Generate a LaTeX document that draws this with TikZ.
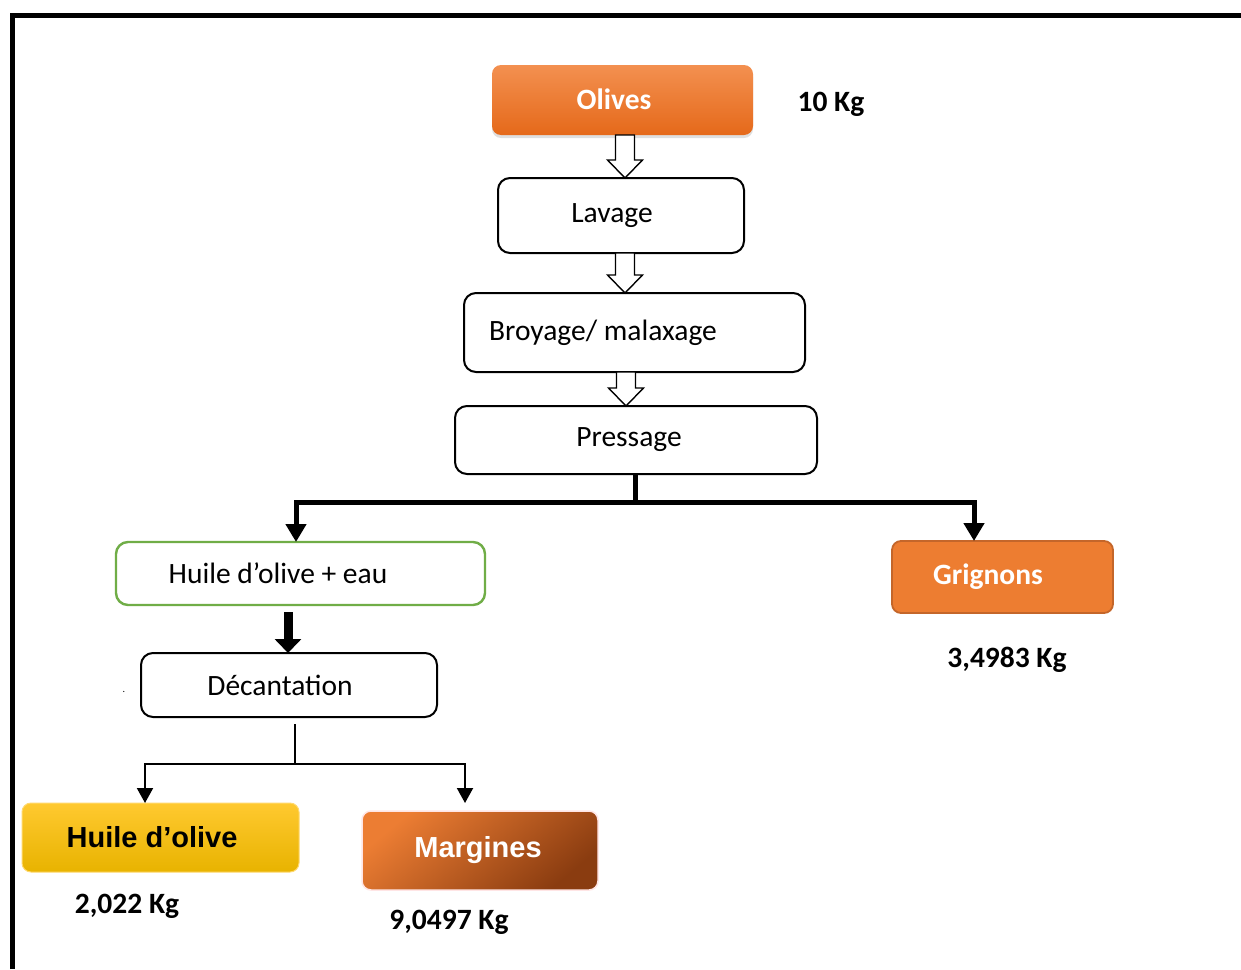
\documentclass[tikz,border=0pt]{standalone}
\usepackage{fontspec}
\setmainfont{Carlito}
\newfontfamily\arialf{Liberation Sans}
\usetikzlibrary{arrows.meta,calc,shadows}
\definecolor{olivetop}{HTML}{F39050}
\definecolor{olivebot}{HTML}{E5691A}
\definecolor{grigfill}{HTML}{ED7D31}
\definecolor{grigdraw}{HTML}{C4662A}
\definecolor{greenb}{HTML}{70AD47}
\definecolor{goldtop}{HTML}{FFC930}
\definecolor{goldbot}{HTML}{E8B300}
\definecolor{margtop}{HTML}{EC7D33}
\definecolor{margmid}{HTML}{CC6628}
\definecolor{margbot}{HTML}{8A3C10}
\newcommand\lsh[2]{#2\hspace*{#1}}
\newcommand\hollowarrow[3]{%
  \draw[fill=white, line width=1.4pt, line join=miter]
    let \p1=(#1.south), \p2=(#2.north), \p3=(#3,0) in
    (\x3-9.5pt,\y1) -- (\x3+9.5pt,\y1) -- (\x3+9.5pt,\y2+18pt) -- (\x3+17.5pt,\y2+18pt)
    -- (\x3,\y2) -- (\x3-17.5pt,\y2+18pt) -- (\x3-9.5pt,\y2+18pt) -- cycle;}
\begin{document}
\begin{tikzpicture}[x=1pt,y=-1pt,
  box/.style={draw=black, line width=2pt, rounded corners=12pt, fill=white, inner sep=0pt, outer sep=0pt,
    font=\fontsize{29.5}{33}\selectfont},
  colbox/.style={inner sep=0pt, outer sep=0pt, rounded corners=9pt},
  kg/.style={font=\fontsize{29.5}{33}\selectfont\bfseries},
  bigarrow/.style={line width=5pt, -{Triangle[width=20pt,length=18pt]}},
  thinarrow/.style={line width=2pt, -{Triangle[width=16pt,length=15pt]}}]
\useasboundingbox (0,0) rectangle (1241,969);
\fill[white] (0,0) rectangle (1241,969);
\draw[line width=5pt, line join=miter] (12.5,969) -- (12.5,15.5) -- (1241,15.5);

% nodes
\node[colbox, top color=olivetop, bottom color=olivebot, minimum width=261pt, minimum height=70pt,
  drop shadow={shadow xshift=0pt, shadow yshift=-3pt, opacity=0.25},
  text=white, font=\fontsize{29.5}{33}\selectfont\bfseries] (olives) at (622.5,100) {\lsh{17pt}{\raisebox{1.5pt}{Olives}}};
\node[kg] (k10) at (831,104) {10 Kg};
\node[box, minimum width=246pt, minimum height=75pt] (lavage) at (621,215.5) {\lsh{18pt}{Lavage}};
\node[box, minimum width=341pt, minimum height=79pt] (broyage) at (634.5,332.5) {\lsh{63pt}{\raisebox{3pt}{Broyage/ malaxage}}};
\node[box, minimum width=362pt, minimum height=68pt] (pressage) at (636,440) {\lsh{14pt}{Pressage}};
\node[box, draw=greenb, line width=2.4pt, minimum width=369pt, minimum height=63pt] (huileeau) at (300.5,573.5) {\lsh{45pt}{Huile d’olive + eau}};
\node[box, minimum width=296pt, minimum height=64pt] (decant) at (289,685) {\lsh{18pt}{Décantation}};
\node[colbox, fill=grigfill, draw=grigdraw, line width=1.8pt, minimum width=221pt, minimum height=72pt,
  text=white, font=\fontsize{29.5}{33}\selectfont\bfseries] (grignons) at (1002.5,577) {\lsh{29pt}{Grignons}};
\node[kg] (k3) at (1007,660) {3,4983 Kg};
\node[colbox, top color=goldtop, bottom color=goldbot, draw=goldtop!70!white, line width=1pt,
  minimum width=277pt, minimum height=69pt,
  font=\arialf\fontsize{29}{33}\selectfont\bfseries] (huile) at (160.5,837.5) {\lsh{17pt}{\raisebox{1.5pt}{Huile d’olive}}};
\node[kg] (k2) at (127,906) {2,022 Kg};
\node[colbox, top color=margtop, middle color=margmid, bottom color=margbot, shading angle=40, draw=red!10!white, line width=1.5pt,
  minimum width=236pt, minimum height=79pt, text=white,
  font=\arialf\fontsize{29}{33}\selectfont\bfseries] (margines) at (480,850.5) {\lsh{4pt}{Margines}};
\node[kg] (k9) at (449,922) {9,0497 Kg};
\node[font=\fontsize{10}{12}\selectfont, inner sep=0pt] (dot) at (124,692) {.};

% hollow arrows
\hollowarrow{olives}{lavage}{625}
\hollowarrow{lavage}{broyage}{625}
\hollowarrow{broyage}{pressage}{626}

% split after Pressage
\coordinate (pL) at (296,502);
\coordinate (pR) at (974,502);
\coordinate (pM) at (635,502);
\draw[line width=5pt] (pressage.south -| pM) -- (pM);
\draw[line width=5pt, line cap=rect] (pL) -- (pR);
\draw[bigarrow] (pL) -- (pL |- huileeau.north);
\draw[bigarrow] (pR) -- (pR |- grignons.north);

% thick arrow to decantation
\coordinate (dx) at (288,0);
\draw[line width=9pt, -{Triangle[width=26pt,length=14pt]}] ([yshift=-7pt]huileeau.south -| dx) -- (decant.north -| dx);

% split after decantation
\coordinate (dM) at (295,764);
\coordinate (dL) at (145,764);
\coordinate (dR) at (465,764);
\draw[line width=1.5pt] ([yshift=-7pt]decant.south -| dM) -- (dM);
\draw[line width=2pt, line cap=rect] (dL) -- (dR);
\draw[thinarrow] (dL) -- (dL |- huile.north);
\draw[thinarrow] (dR) -- ($(dR |- margines.north)+(0,-8)$);
\end{tikzpicture}
\end{document}
